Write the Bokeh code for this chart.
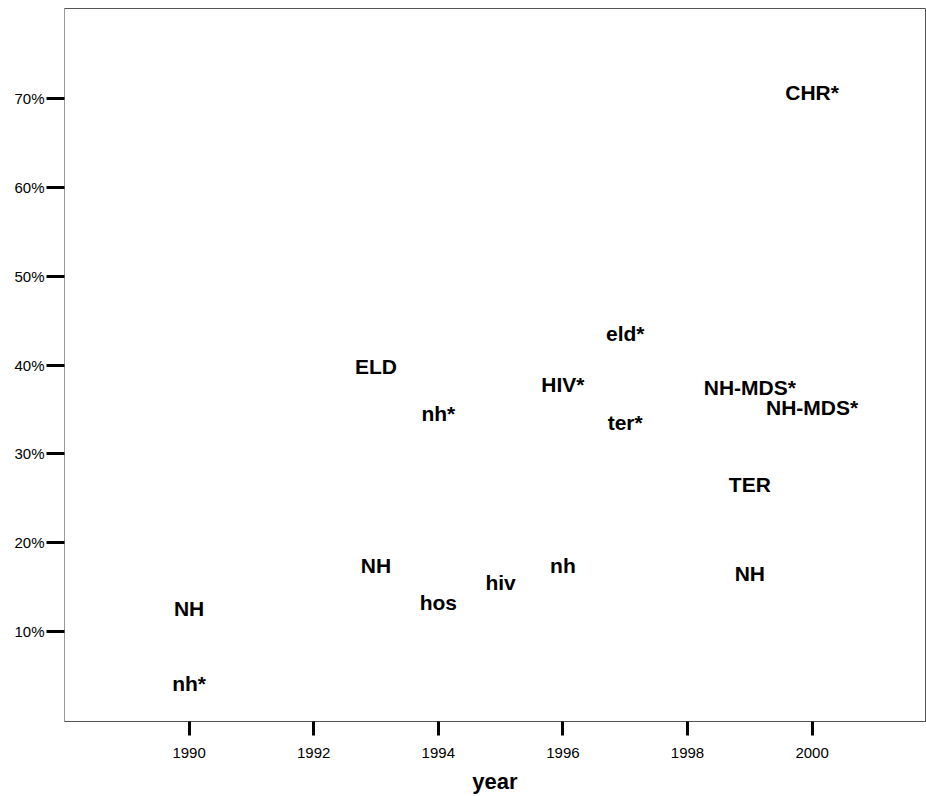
from bokeh.plotting import figure
from bokeh.models import ColumnDataSource, FixedTicker, PrintfTickFormatter, Range1d
from bokeh.core.properties import value
from bokeh.embed import file_html
from bokeh.resources import INLINE

# data
labels = ["NH", "nh*", "ELD", "NH", "nh*", "hos", "hiv", "HIV*", "nh",
          "eld*", "ter*", "NH-MDS*", "NH-MDS*", "TER", "NH", "CHR*"]
years = [1990, 1990, 1993, 1993, 1994, 1994, 1995, 1996, 1996,
         1997, 1997, 1999, 2000, 1999, 1999, 2000]
pct = [12.6, 4.2, 39.8, 17.5, 34.6, 13.3, 15.5, 37.8, 17.5,
       43.5, 33.5, 37.5, 35.2, 26.6, 16.5, 70.6]
x_ticks = [1990, 1992, 1994, 1996, 1998, 2000]
y_ticks = [10, 20, 30, 40, 50, 60, 70]

src = ColumnDataSource(dict(x=years, y=pct, t=labels))

FONT = "Liberation Sans"

p = figure(width=926, height=796, output_backend="svg", toolbar_location=None,
           x_range=Range1d(1988, 2001.82), y_range=Range1d(-0.1, 80.1),
           min_border_left=64, min_border_top=8, min_border_right=1,
           min_border_bottom=74)
p.grid.visible = False
p.outline_line_color = "#555555"
p.background_fill_color = "white"
p.border_fill_color = "white"

p.text(x="x", y="y", text="t", source=src, text_align="center",
       text_baseline="middle", text_font=value(FONT), text_font_style="bold",
       text_font_size="21px", text_color="#000000")

xa = p.xaxis[0]
xa.ticker = FixedTicker(ticks=x_ticks)
xa.axis_label = "year"
xa.axis_label_text_font = FONT
xa.axis_label_text_font_style = "bold"
xa.axis_label_text_font_size = "22px"
xa.axis_label_text_color = "#000000"
xa.axis_label_standoff = 8
xa.major_label_text_font = FONT
xa.major_label_text_font_size = "15px"
xa.major_label_text_color = "#000000"
xa.major_label_standoff = 12
xa.major_tick_in = 0
xa.major_tick_out = 14
xa.major_tick_line_width = 3
xa.major_tick_line_color = "#000000"
xa.minor_tick_line_color = None
xa.axis_line_color = "#555555"

ya = p.yaxis[0]
ya.ticker = FixedTicker(ticks=y_ticks)
ya.formatter = PrintfTickFormatter(format="%d%%")
ya.major_label_text_font = FONT
ya.major_label_text_font_size = "15px"
ya.major_label_text_color = "#000000"
ya.major_label_standoff = 2
ya.major_tick_in = 0
ya.major_tick_out = 18
ya.major_tick_line_width = 3
ya.major_tick_line_color = "#000000"
ya.minor_tick_line_color = None
ya.axis_line_color = "#999999"

open("out.html", "w").write(file_html(p, INLINE))
